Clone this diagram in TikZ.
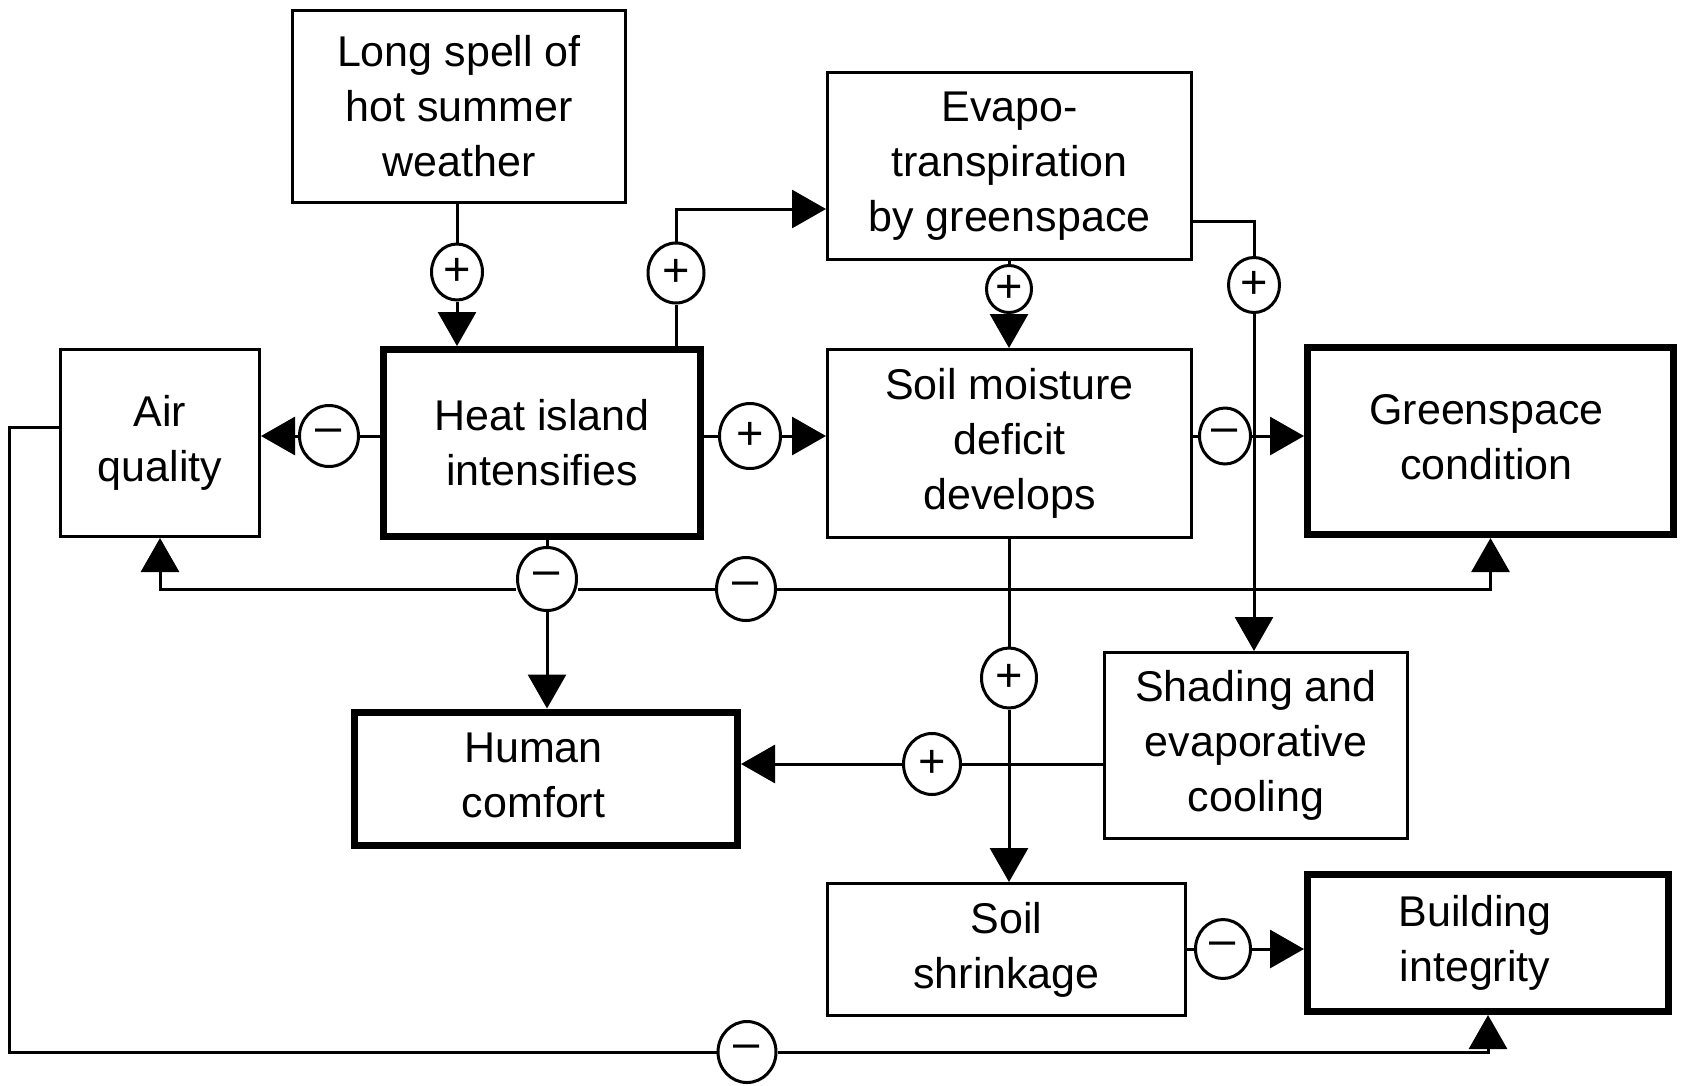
\documentclass[tikz,border=0pt]{standalone}
\usepackage{fontspec}
\setmainfont{Liberation Sans}
\usetikzlibrary{arrows.meta,shapes.geometric}
\begin{document}
\begin{tikzpicture}[x=1pt,y=-1pt,
  every node/.style={font=\fontsize{43}{55}\selectfont},
  box/.style={draw, line width=3pt, rectangle, inner sep=0pt, align=center},
  tbox/.style={box, line width=7pt},
  sgn/.style={draw, ellipse, line width=3pt, inner sep=0pt, font=\fontsize{47}{47}\selectfont},
  conn/.style={line width=3pt},
  arr/.style={conn, -{Triangle[length=34pt,width=38pt]}}
]
\useasboundingbox (0,0) rectangle (1686,1085);

% boxes
\node[box, minimum width=333pt, minimum height=192pt] (long) at (459,106.5) {Long spell of\\hot summer\\weather};
\node[box, minimum width=364pt, minimum height=187pt] (evapo) at (1009.5,166) {Evapo-\\transpiration\\by greenspace};
\node[box, minimum width=199pt, minimum height=187pt] (air) at (160,443) {Air\\quality};
\node[tbox, minimum width=317pt, minimum height=187pt] (heat) at (542,443) {Heat island\\intensifies};
\node[box, minimum width=364pt, minimum height=188pt] (soil) at (1009.5,443.5) {\raisebox{-4pt}{\begin{tabular}{@{}c@{}}Soil moisture\\deficit\\develops\end{tabular}}};
\node[tbox, minimum width=366pt, minimum height=187pt] (green) at (1490.5,441) {\begin{tabular}{@{}c@{}}Greenspace\\condition\end{tabular}\hspace*{8pt}};
\node[tbox, minimum width=383pt, minimum height=133pt] (human) at (546,778.5) {\begin{tabular}{@{}c@{}}Human\\comfort\end{tabular}\hspace*{25pt}};
\node[box, minimum width=303pt, minimum height=186pt] (shading) at (1256,745.5) {Shading and\\evaporative\\cooling};
\node[box, minimum width=358pt, minimum height=132pt] (shrink) at (1006.5,949.5) {Soil\\shrinkage};
\node[tbox, minimum width=361pt, minimum height=137pt] (build) at (1488,943) {\begin{tabular}{@{}c@{}}Building\\integrity\end{tabular}\hspace*{26pt}};

% sign circles
\node[sgn, minimum width=51pt, minimum height=56pt] (c1) at (457,272) {+};
\node[sgn, minimum width=56pt, minimum height=60pt] (c2) at (676,273) {+};
\node[sgn, minimum width=59pt, minimum height=61pt] (c3) at (329,436) {–};
\node[sgn, minimum width=61pt, minimum height=65pt] (c4) at (750,436) {+};
\node[sgn, minimum width=45pt, minimum height=47pt] (c5) at (1009,289) {+};
\node[sgn, minimum width=51pt, minimum height=55pt] (c6) at (1254,285) {+};
\node[sgn, minimum width=51pt, minimum height=56pt] (c7) at (1225,436) {–};
\node[sgn, minimum width=59pt, minimum height=63pt] (c8) at (547,579) {–};
\node[sgn, minimum width=59pt, minimum height=63pt] (c9) at (746,589) {–};
\node[sgn, minimum width=55pt, minimum height=60pt] (c10) at (1009,678) {+};
\node[sgn, minimum width=57pt, minimum height=61pt] (c11) at (932,764) {+};
\node[sgn, minimum width=55pt, minimum height=59pt] (c12) at (1223,949) {–};
\node[sgn, minimum width=58pt, minimum height=61pt] (c13) at (747,1052) {–};

% helper coordinates
\coordinate (he) at (675,209);
\coordinate (ec) at (1254,221);
\coordinate (hl) at (0,589);
\coordinate (lt) at (9,427);
\coordinate (lb) at (9,1052);

% long -> heat
\draw[conn] (long.south -| c1) -- (c1);
\draw[arr] (c1) -- (c1 |- heat.north);
% heat -> evapo
\draw[conn] (heat.north -| c2) -- (c2);
\draw[arr] (c2) |- (evapo.west |- he);
% heat -> air
\draw[conn] (heat.west |- c3) -- (c3);
\draw[arr] (c3) -- (c3 -| air.east);
% heat -> soil
\draw[conn] (heat.east |- c4) -- (c4);
\draw[arr] (c4) -- (c4 -| soil.west);
% evapo -> soil
\draw[conn] (evapo.south -| c5) -- (c5);
\draw[arr] (c5) -- (c5 |- soil.north);
% evapo -> shading
\draw[conn] (evapo.east |- ec) -- (ec) -- (c6);
\draw[arr] (c6) -- (c6 |- shading.north);
% soil -> green
\draw[conn] (soil.east |- c7) -- (c7);
\draw[arr] (c7) -- (c7 -| green.west);
% heat -> air / human / green (via c8)
\draw[conn] (heat.south -| c8) -- (c8.north);
\draw[arr] (c8.west |- hl) -| (air.south);
\draw[conn] (c8.east |- hl) -- (c9);
\draw[arr] (c9) -| (green.south);
\draw[arr] (c8) -- (c8 |- human.north);
% soil -> shrink
\draw[conn] (soil.south -| c10) -- (c10);
\draw[arr] (c10) -- (c10 |- shrink.north);
% shading -> human
\draw[conn] (shading.west |- c11) -- (c11);
\draw[arr] (c11) -- (c11 -| human.east);
% shrink -> build
\draw[conn] (shrink.east |- c12) -- (c12);
\draw[arr] (c12) -- (c12 -| build.west);
% air -> build
\draw[conn] (air.west |- lt) -- (lt) -- (lb) -- (c13);
\draw[arr] (c13) -| (build.south);
\end{tikzpicture}
\end{document}
